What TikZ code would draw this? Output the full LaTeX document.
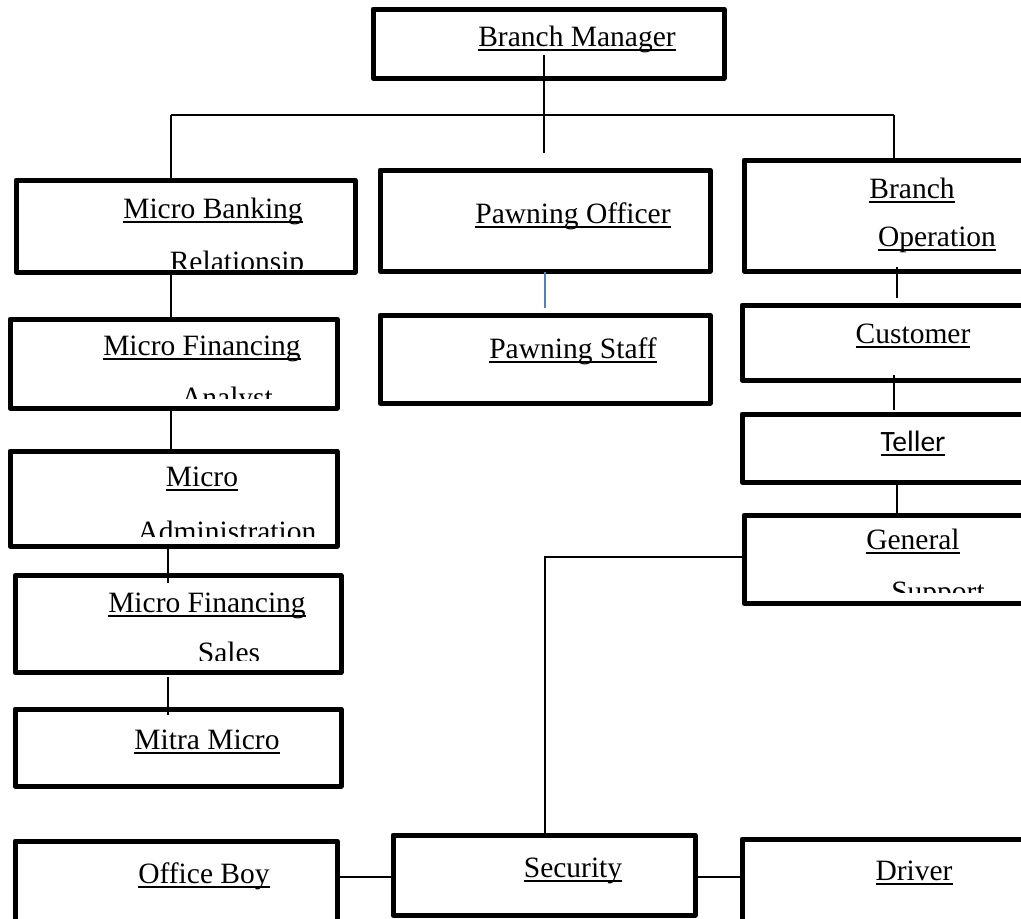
\documentclass[tikz,border=0pt]{standalone}
\usepackage{fontspec}
\setmainfont{Liberation Serif}
\newfontfamily\calib{Carlito}
\newcommand{\ulx}[1]{\setbox0\hbox{#1}\rlap{\rule[-0.16em]{\wd0}{0.065em}}\box0}
\definecolor{linkblue}{RGB}{79,129,189}
\tikzset{
  box/.style={draw=black, line width=5pt, line join=round, rectangle, inner sep=0pt, outer sep=0pt, fill=none},
  conn/.style={draw=black, line width=1.4pt},
  bconn/.style={draw=linkblue, line width=1.6pt},
  txt/.style={inner sep=0pt, outer sep=0pt, anchor=base, font=\fontsize{29.5pt}{35pt}\selectfont},
}
\begin{document}
\begin{tikzpicture}[x=1pt,y=-1pt]
\clip (0,0) rectangle (1021,919);
\fill[white] (0,0) rectangle (1021,919);
% boxes
\node[box, minimum width=351pt, minimum height=69pt] (bm) at (548.5,43.5) {};
\node[box, minimum width=339pt, minimum height=92pt] (mb) at (185.5,226) {};
\node[box, minimum width=330pt, minimum height=101pt] (po) at (545,220.5) {};
\node[box, minimum width=296pt, minimum height=111pt] (bo) at (892,215.5) {};
\node[box, minimum width=327pt, minimum height=89pt] (mfa) at (173.5,363.5) {};
\node[box, minimum width=330pt, minimum height=88pt] (ps) at (545,359) {};
\node[box, minimum width=298pt, minimum height=75pt] (cust) at (891,342.5) {};
\node[box, minimum width=298pt, minimum height=68pt] (tel) at (891,448) {};
\node[box, minimum width=327pt, minimum height=95pt] (ma) at (173.5,498.5) {};
\node[box, minimum width=296pt, minimum height=88pt] (gs) at (892,559) {};
\node[box, minimum width=326pt, minimum height=97pt] (mfs) at (178,624) {};
\node[box, minimum width=326pt, minimum height=77pt] (mm) at (178,747.5) {};
\node[box, minimum width=322pt, minimum height=99pt] (ob) at (176,890.5) {};
\node[box, minimum width=302pt, minimum height=80pt] (sec) at (544,875) {};
\node[box, minimum width=298pt, minimum height=101pt] (drv) at (891,889.5) {};
% texts
\node[txt] (tbm) at (577,46) {\ulx{Branch Manager}};
\node[txt] (tmb) at (213,218) {\ulx{Micro Banking}};
\node[txt] (tpo) at (573,223) {\ulx{Pawning Officer}};
\node[txt] (tbo1) at (912,198) {\ulx{Branch}};
\node[txt] (tbo2) at (937,246) {\ulx{Operation}};
\node[txt] (tmfa) at (202,355) {\ulx{Micro Financing}};
\node[txt] (tps) at (573,358) {\ulx{Pawning Staff}};
\node[txt] (tcu) at (913,343) {\ulx{Customer}};
\node[txt] (tte) at (913,451) {\calib\ulx{Teller}};
\node[txt] (tma) at (202,486) {\ulx{Micro}};
\node[txt] (tgs) at (913,549) {\ulx{General}};
\node[txt] (tmfs) at (207,612) {\ulx{Micro Financing}};
\node[txt] (tmm) at (207,749) {\ulx{Mitra Micro}};
\node[txt] (tob) at (204,883) {\ulx{Office Boy}};
\node[txt] (tsec) at (573,877) {\ulx{Security}};
\node[txt] (tdrv) at (914,880) {\ulx{Driver}};
% clipped second lines
\begin{scope}\clip (20,184) rectangle (350,268);
\node[txt] (tmb2) at (237,271) {Relationsip};\end{scope}
\begin{scope}\clip (14,323) rectangle (333,398);
\node[txt] (tmfa2) at (227,407) {Analyst};\end{scope}
\begin{scope}\clip (14,455) rectangle (333,536);
\node[txt] (tma2) at (227,541) {Administration};\end{scope}
\begin{scope}\clip (748,519) rectangle (1021,592);
\node[txt] (tgs2) at (938,601) {Support};\end{scope}
\begin{scope}\clip (19,579) rectangle (337,660);
\node[txt] (tmfs2) at (229,662) {Sales};\end{scope}
% connector coordinates
\coordinate (bmt) at (544,55);
\coordinate (bmb) at (544,153);
\coordinate (hl) at (171,115);
\coordinate (hr) at (894,115);
\coordinate (a1) at (168,544);
\coordinate (a2) at (168,583);
\coordinate (b1) at (168,677);
\coordinate (b2) at (168,715);
\coordinate (p1) at (545,272);
\coordinate (p2) at (545,308);
\coordinate (c1) at (897,267);
\coordinate (c2) at (897,298);
\coordinate (d1) at (894,375);
\coordinate (d2) at (894,410);
\coordinate (xt) at (897,0);
\coordinate (gy) at (0,557);
\coordinate (sx) at (545,557);
\coordinate (hy) at (0,877);
% connectors
\draw[conn] (bmt) -- (bmb);
\draw[conn] (hl) -- (hr);
\draw[conn] (hl) -- (mb.north -| hl);
\draw[conn] (hr) -- (bo.north -| hr);
\draw[conn] (mb.south -| hl) -- (mfa.north -| hl);
\draw[conn] (mfa.south -| hl) -- (ma.north -| hl);
\draw[conn] (a1) -- (a2);
\draw[conn] (b1) -- (b2);
\draw[bconn] (p1) -- (p2);
\draw[conn] (c1) -- (c2);
\draw[conn] (d1) -- (d2);
\draw[conn] (tel.south -| xt) -- (gs.north -| xt);
\draw[conn] (gs.west |- gy) -- (sx) -- (sec.north -| sx);
\draw[conn] (ob.east |- hy) -- (sec.west |- hy);
\draw[conn] (sec.east |- hy) -- (drv.west |- hy);
\end{tikzpicture}
\end{document}
